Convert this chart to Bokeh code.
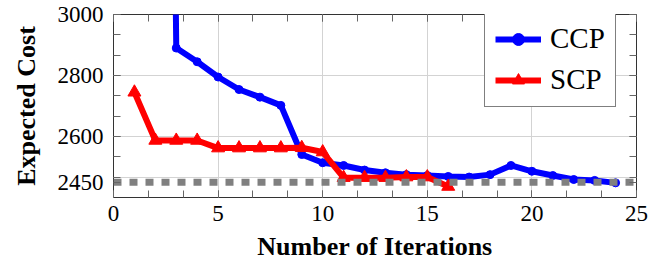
from bokeh.plotting import figure
from bokeh.models import FixedTicker, LinearAxis, Legend, LegendItem, Range1d
from bokeh.embed import file_html
from bokeh.resources import INLINE

# data
ccp_x = [2, 3, 4, 5, 6, 7, 8, 9, 10, 11, 12, 13, 14, 15, 16, 17, 18, 19, 20, 21, 22, 23, 24]
ccp_y = [9000, 2890, 2845, 2795, 2754, 2729, 2702, 2541, 2514, 2505, 2490, 2481, 2475,
         2472, 2469, 2467, 2475, 2505, 2486, 2472, 2459, 2456, 2448]
scp_x = [1, 2, 3, 4, 5, 6, 7, 8, 9, 10, 11, 12, 13, 14, 15, 16]
scp_y = [2745, 2587, 2587, 2587, 2562, 2562, 2562, 2562, 2563, 2549, 2465, 2465, 2465,
         2467, 2467, 2436]
bound_x = [0, 25]
bound_y = [2450, 2450]

x_major = [0, 5, 10, 15, 20, 25]
x_minor = [i * 5 / 3 for i in range(16)]
y_major = [2450, 2600, 2800, 3000]
y_minor = [2466.67, 2533.33, 2600, 2666.67, 2733.33, 2800, 2866.67, 2933.33, 3000]
y_grid = [2466.67, 2600, 2800]

SERIF = "Times New Roman, Liberation Serif, serif"

p = figure(width=649, height=266, output_backend="svg", toolbar_location=None,
           x_range=Range1d(0, 25), y_range=Range1d(2400, 3000),
           min_border_left=113, min_border_right=13, min_border_top=14, min_border_bottom=69)

p.outline_line_color = "#333333"
p.outline_line_width = 1
p.background_fill_color = "white"
p.border_fill_color = "white"

# grids
p.xgrid.ticker = FixedTicker(ticks=[5, 10, 15, 20])
p.ygrid.ticker = FixedTicker(ticks=y_grid)
for g in (p.xgrid, p.ygrid):
    g.grid_line_color = "#d3d3d3"
    g.grid_line_width = 1

def style_axis(ax, ticks, minor, show_labels):
    ax.ticker = FixedTicker(ticks=ticks, minor_ticks=minor)
    ax.axis_line_color = None
    ax.major_tick_in = 7
    ax.major_tick_out = 0
    ax.minor_tick_in = 7
    ax.minor_tick_out = 0
    ax.major_tick_line_color = "#666666"
    ax.minor_tick_line_color = "#666666"
    if show_labels:
        ax.major_label_text_font = SERIF
        ax.major_label_text_font_size = "23px"
        ax.major_label_text_color = "black"
    else:
        ax.major_label_text_font_size = "0px"
        ax.major_label_standoff = 0

style_axis(p.xaxis[0], x_major, x_minor, True)
style_axis(p.yaxis[0], y_major, y_minor, True)
p.xaxis[0].major_label_standoff = 8
p.yaxis[0].major_label_standoff = 10

p.xaxis.axis_label = "Number of Iterations"
p.yaxis.axis_label = "Expected Cost"
for ax in (p.xaxis[0], p.yaxis[0]):
    ax.axis_label_text_font = SERIF
    ax.axis_label_text_font_style = "bold"
    ax.axis_label_text_font_size = "26px"
    ax.axis_label_text_color = "black"
p.xaxis[0].axis_label_standoff = 8
p.yaxis[0].axis_label_standoff = 14

top = LinearAxis()
right = LinearAxis()
style_axis(top, x_major, x_minor, False)
style_axis(right, y_major, y_minor, False)
p.add_layout(top, "above")
p.add_layout(right, "right")

# series
ccp_line = p.line(ccp_x, ccp_y, line_color="blue", line_width=6)
ccp_mark = p.scatter(ccp_x, ccp_y, marker="circle", size=8, fill_color="blue",
                     line_color="blue")
scp_line = p.line(scp_x, scp_y, line_color="red", line_width=6)
scp_mark = p.scatter(scp_x, scp_y, marker="triangle", size=13, fill_color="red",
                     line_color="red")
p.line(bound_x, bound_y, line_color="#808080", line_width=7, line_dash="8 8",
       line_cap="butt")

legend = Legend(items=[LegendItem(label="CCP", renderers=[ccp_line, ccp_mark]),
                       LegendItem(label="SCP", renderers=[scp_line, scp_mark])],
                location=(371, 90))
legend.label_text_font = SERIF
legend.label_text_font_size = "29px"
legend.label_text_color = "black"
legend.glyph_width = 46
legend.glyph_height = 30
legend.label_standoff = 9
legend.padding = 10
legend.spacing = 8
legend.margin = 0
legend.border_line_color = "black"
legend.border_line_width = 1
legend.background_fill_color = "white"
legend.background_fill_alpha = 1
p.add_layout(legend, "center")

open("out.html", "w").write(file_html(p, INLINE))
